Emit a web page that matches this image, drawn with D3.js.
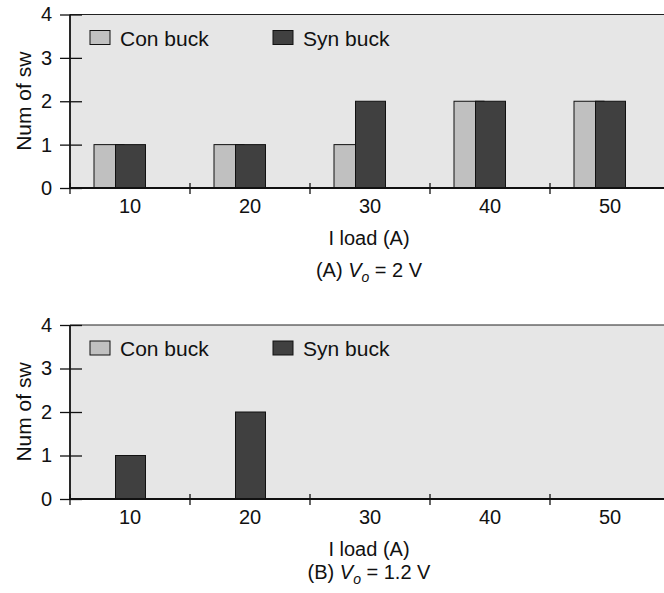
<!DOCTYPE html>
<html>
<head>
<meta charset="utf-8">
<script src="https://cdn.jsdelivr.net/npm/d3@7"></script>
<style>
  body { margin: 0; background: #fff; }
  svg { display: block; font-family: "Liberation Sans", Arial, sans-serif; }
</style>
</head>
<body>
<svg id="chart" width="664" height="593"></svg>
<script>
// data
const loads = ["10", "20", "30", "40", "50"];
const conA = [1, 1, 1, 2, 2];
const synA = [1, 1, 2, 2, 2];
const conB = [0, 0, 0, 0, 0];
const synB = [1, 2, 0, 0, 0];
const yTicks = [0, 1, 2, 3, 4];
const seriesNames = ["Con buck", "Syn buck"];
const colors = ["#c0c0c0", "#404040"];

const svg = d3.select("#chart");
const FONT = "Liberation Sans, Arial, sans-serif";

const x = d3.scaleBand()
    .domain(loads)
    .range([70, 670])
    .padding(0);

function drawPanel(top, bottom, con, syn, tag, volt, capOffset) {
    const y = d3.scaleLinear().domain([0, 4]).range([bottom, top]);
    const g = svg.append("g");

    // plot background
    g.append("rect")
        .attr("x", 70).attr("y", y(4))
        .attr("width", 620).attr("height", y(0) - y(4))
        .attr("fill", "#e6e6e6");
    g.append("line")
        .attr("x1", 70).attr("x2", 670)
        .attr("y1", y(4)).attr("y2", y(4))
        .attr("stroke", "#222").attr("stroke-width", 1.2);

    const cx = d => x(d) + x.bandwidth() / 2;

    // con bars (behind), syn bars on top
    g.selectAll(".con")
        .data(loads.map((d, i) => ({ k: d, v: con[i] })).filter(d => d.v > 0))
        .enter().append("rect")
        .attr("x", d => cx(d.k) - 36)
        .attr("y", d => y(d.v))
        .attr("width", 30)
        .attr("height", d => y(0) - y(d.v))
        .attr("fill", colors[0])
        .attr("stroke", "#111").attr("stroke-width", 1);

    g.selectAll(".syn")
        .data(loads.map((d, i) => ({ k: d, v: syn[i] })).filter(d => d.v > 0))
        .enter().append("rect")
        .attr("x", d => cx(d.k) - 14.5)
        .attr("y", d => y(d.v))
        .attr("width", 30)
        .attr("height", d => y(0) - y(d.v))
        .attr("fill", colors[1])
        .attr("stroke", "#111").attr("stroke-width", 1);

    // y axis
    const yAxis = g.append("g")
        .attr("transform", "translate(70,0)")
        .call(d3.axisLeft(y).tickValues(yTicks).tickFormat(d3.format("d")).tickSize(10).tickPadding(8));
    yAxis.select(".domain").remove();
    yAxis.selectAll(".tick line").attr("x1", 12).attr("stroke", "#111").attr("stroke-width", 1.3);
    yAxis.selectAll(".tick text")
        .attr("font-size", 20).attr("fill", "#111")
        .attr("font-family", FONT);
    g.append("line")
        .attr("x1", 70).attr("x2", 70)
        .attr("y1", y(4)).attr("y2", y(0))
        .attr("stroke", "#111").attr("stroke-width", 1.8);

    // x axis: labels at centres, ticks at band edges
    const xAxis = g.append("g")
        .attr("transform", `translate(0,${y(0)})`)
        .call(d3.axisBottom(x).tickSize(0).tickPadding(11));
    xAxis.select(".domain").remove();
    xAxis.selectAll(".tick text")
        .attr("font-size", 20).attr("fill", "#111")
        .attr("font-family", FONT);
    g.append("line")
        .attr("x1", 70).attr("x2", 670)
        .attr("y1", y(0)).attr("y2", y(0))
        .attr("stroke", "#111").attr("stroke-width", 2);
    g.selectAll(".edge")
        .data(loads)
        .enter().append("line")
        .attr("x1", d => x(d)).attr("x2", d => x(d))
        .attr("y1", y(0) - 5).attr("y2", y(0) + 6)
        .attr("stroke", "#111").attr("stroke-width", 1.3);

    // legend
    const lg = g.append("g").attr("transform", `translate(0,${y(4) + 16})`);
    [90, 273].forEach((lx, i) => {
        lg.append("rect")
            .attr("x", lx).attr("y", 0)
            .attr("width", 20).attr("height", 14)
            .attr("fill", colors[i])
            .attr("stroke", "#111").attr("stroke-width", 1);
        lg.append("text")
            .attr("x", lx + 30).attr("y", 15)
            .attr("font-size", 21).attr("fill", "#111")
            .text(seriesNames[i]);
    });

    // axis titles
    g.append("text")
        .attr("transform", `translate(30.5,${(y(0) + y(4)) / 2}) rotate(-90)`)
        .attr("text-anchor", "middle")
        .attr("font-size", 21).attr("fill", "#111")
        .text("Num of sw");
    g.append("text")
        .attr("x", 369).attr("y", y(0) + 57)
        .attr("text-anchor", "middle")
        .attr("font-size", 20).attr("fill", "#111")
        .text("I load (A)");

    const cap = g.append("text")
        .attr("x", 369).attr("y", y(0) + capOffset)
        .attr("text-anchor", "middle")
        .attr("font-size", 20).attr("fill", "#111");
    cap.append("tspan").text(tag + " ");
    cap.append("tspan").attr("font-style", "italic").text("V");
    cap.append("tspan").attr("font-style", "italic").attr("font-size", 14).attr("dy", 5).text("o");
    cap.append("tspan").attr("dy", -5).text(" = " + volt);
}

drawPanel(14.5, 188, conA, synA, "(A)", "2 V", 89);
drawPanel(325, 499, conB, synB, "(B)", "1.2 V", 80);
</script>
</body>
</html>
